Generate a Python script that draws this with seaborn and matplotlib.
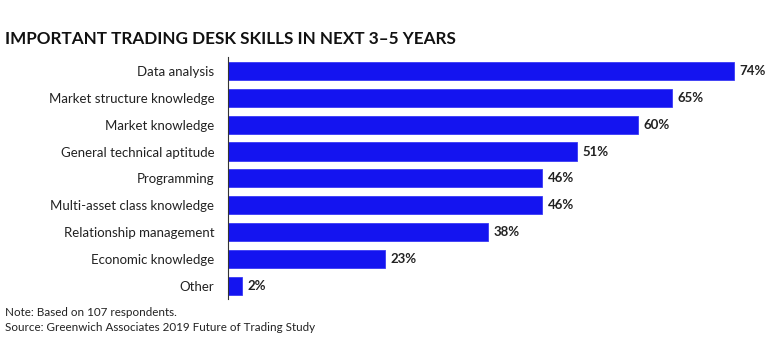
import matplotlib
matplotlib.use("Agg")
import matplotlib.pyplot as plt
import seaborn as sns
import pandas as pd

skills = ["Data analysis", "Market structure knowledge", "Market knowledge",
          "General technical aptitude", "Programming", "Multi-asset class knowledge",
          "Relationship management", "Economic knowledge", "Other"]
shares = [74, 65, 60, 51, 46, 46, 38, 23, 2]

df = pd.DataFrame({"skill": skills, "share": shares})

sns.set_style("white")
plt.rcParams["font.family"] = ["Lato", "DejaVu Sans"]

fig = plt.figure(figsize=(7.68, 3.63), dpi=100)
ax = fig.add_axes([0.297, 0.175, 0.703, 0.667])

sns.barplot(data=df, x="share", y="skill", color="#1414F0", saturation=1,
            width=0.67, edgecolor="#3a3af5", linewidth=0.6, ax=ax)

for i, v in enumerate(shares):
    ax.text(v + 0.8, i, f"{v}%", va="center", ha="left", fontsize=9.5,
            fontweight="bold", color="#222222")

ax.set_xlim(0, 79)
ax.set_ylim(8.5, -0.5)
ax.set_xlabel("")
ax.set_ylabel("")
ax.set_xticks([])
ax.tick_params(axis="y", length=0, pad=10, labelsize=9.5, labelcolor="#222222")
for s in ["top", "right", "bottom"]:
    ax.spines[s].set_visible(False)
ax.spines["left"].set_color("#333333")
ax.spines["left"].set_linewidth(0.8)

fig.text(0.007, 0.893, "IMPORTANT TRADING DESK SKILLS IN NEXT 3\u20135 YEARS",
         fontsize=12.3, fontweight="bold", color="#111111", va="center")
fig.text(0.007, 0.138, "Note: Based on 107 respondents.", fontsize=8.4,
         color="#222222", va="center")
fig.text(0.007, 0.099, "Source: Greenwich Associates 2019 Future of Trading Study",
         fontsize=8.4, color="#222222", va="center")

fig.savefig("out.png", dpi=100)
